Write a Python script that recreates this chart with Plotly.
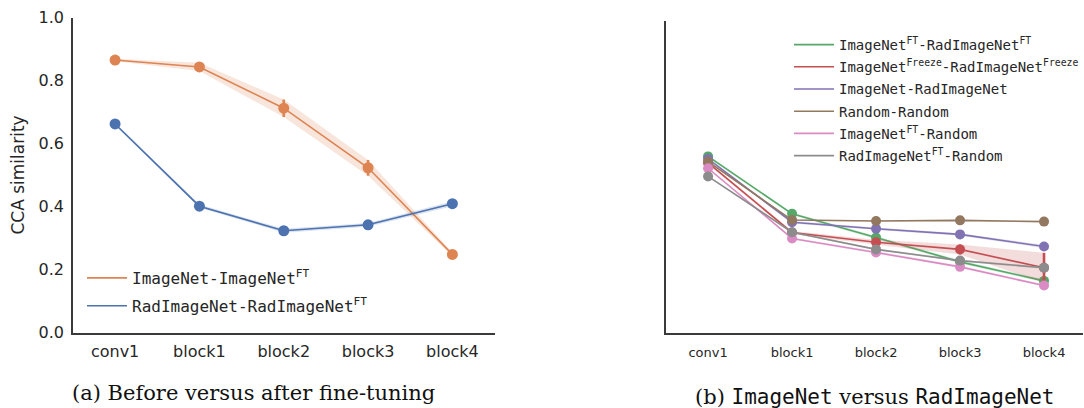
import plotly.graph_objects as go

# ---------------- data ----------------
layers = ["conv1", "block1", "block2", "block3", "block4"]

# (a) before vs after fine-tuning
in_in = [0.865, 0.843, 0.712, 0.523, 0.248]
in_in_err = [0.004, 0.013, 0.028, 0.025, 0.006]
rad_rad = [0.662, 0.401, 0.323, 0.342, 0.409]
rad_rad_err = [0.004, 0.005, 0.006, 0.006, 0.008]

# (b) ImageNet versus RadImageNet
ft_ft = [0.566, 0.382, 0.306, 0.228, 0.167]
ft_ft_err = [0.004, 0.004, 0.005, 0.005, 0.005]
frz_frz = [0.545, 0.322, 0.291, 0.268, 0.209]
frz_frz_err = [0.005, 0.005, 0.008, 0.016, 0.048]
in_rad = [0.558, 0.355, 0.334, 0.316, 0.277]
in_rad_err = [0.003, 0.004, 0.004, 0.004, 0.005]
rnd_rnd = [0.549, 0.362, 0.359, 0.361, 0.357]
rnd_rnd_err = [0.002, 0.002, 0.002, 0.002, 0.002]
inft_rnd = [0.528, 0.303, 0.258, 0.212, 0.152]
inft_rnd_err = [0.003, 0.003, 0.004, 0.004, 0.004]
radft_rnd = [0.502, 0.323, 0.268, 0.232, 0.209]
radft_rnd_err = [0.002, 0.003, 0.003, 0.003, 0.004]

names_a = ["ImageNet-ImageNet<sup>FT</sup>", "RadImageNet-RadImageNet<sup>FT</sup>"]
names_b = [
    "ImageNet<sup>FT</sup>-RadImageNet<sup>FT</sup>",
    "ImageNet<sup>Freeze</sup>-RadImageNet<sup>Freeze</sup>",
    "ImageNet-RadImageNet",
    "Random-Random",
    "ImageNet<sup>FT</sup>-Random",
    "RadImageNet<sup>FT</sup>-Random",
]

# seaborn "deep" palette
C_BLUE, C_ORANGE, C_GREEN, C_RED = "#4C72B0", "#DD8452", "#55A868", "#C44E52"
C_PURPLE, C_BROWN, C_PINK, C_GRAY = "#8172B3", "#937860", "#DA8BC3", "#8C8C8C"

TXT = "#262626"
MONO = "DejaVu Sans Mono"
SANS = "DejaVu Sans"
SERIF = "DejaVu Serif"


def rgba(hexc, a):
    h = hexc.lstrip("#")
    return "rgba(%d,%d,%d,%s)" % (int(h[0:2], 16), int(h[2:4], 16), int(h[4:6], 16), a)


fig = go.Figure()


def add_series(name, vals, errs, color, xa, ya, legend, msize, group):
    lo = [v - e for v, e in zip(vals, errs)]
    hi = [v + e for v, e in zip(vals, errs)]
    fig.add_trace(go.Scatter(
        x=layers + layers[::-1], y=hi + lo[::-1], fill="toself",
        fillcolor=rgba(color, 0.2), line=dict(width=0), mode="lines",
        hoverinfo="skip", showlegend=False, xaxis=xa, yaxis=ya))
    fig.add_trace(go.Scatter(
        x=layers, y=vals, mode="lines", name=name,
        line=dict(color=color, width=1.6), legend=legend, legendgroup=group,
        xaxis=xa, yaxis=ya))
    fig.add_trace(go.Scatter(
        x=layers, y=vals, mode="markers", showlegend=False,
        marker=dict(color=color, size=msize),
        error_y=dict(type="data", array=errs, color=color, thickness=2.6, width=0),
        xaxis=xa, yaxis=ya))


add_series(names_a[0], in_in, in_in_err, C_ORANGE, "x", "y", "legend", 11, "a0")
add_series(names_a[1], rad_rad, rad_rad_err, C_BLUE, "x", "y", "legend", 11, "a1")

series_b = [
    (ft_ft, ft_ft_err, C_GREEN),
    (frz_frz, frz_frz_err, C_RED),
    (in_rad, in_rad_err, C_PURPLE),
    (rnd_rnd, rnd_rnd_err, C_BROWN),
    (inft_rnd, inft_rnd_err, C_PINK),
    (radft_rnd, radft_rnd_err, C_GRAY),
]
for i, (vals, errs, col) in enumerate(series_b):
    add_series(names_b[i], vals, errs, col, "x2", "y2", "legend2", 10, "b%d" % i)

W, H = 1084, 408


def px(x):
    return x / W


def py(y):
    return 1 - y / H


axis_common = dict(showline=True, linecolor="#3a3a3a", linewidth=1.6, ticks="",
                   showgrid=False, zeroline=False, mirror=False, automargin=False)

fig.update_layout(
    width=W, height=H, autosize=False,
    margin=dict(l=0, r=0, t=0, b=0),
    paper_bgcolor="white", plot_bgcolor="white",
    showlegend=True,
    xaxis=dict(domain=[px(73), px(495)], range=[-0.5, 4.5], type="category",
               categoryorder="array", categoryarray=layers, ticklabelstandoff=3,
               tickfont=dict(family=SANS, size=16, color=TXT), anchor="y",
               **axis_common),
    yaxis=dict(domain=[py(332.5), py(17.5)], range=[0, 1],
               tickvals=[0, 0.2, 0.4, 0.6, 0.8, 1.0], ticktext=["0.0", "0.2", "0.4", "0.6", "0.8", "1.0"],
               tickfont=dict(family=SANS, size=16, color=TXT), anchor="x", ticklabelstandoff=4,
               title=dict(text="CCA similarity", font=dict(family=SANS, size=17, color=TXT), standoff=10),
               **axis_common),
    xaxis2=dict(domain=[px(666.7), 1.0], range=[-0.5, 4.464], type="category",
                categoryorder="array", categoryarray=layers, ticklabelstandoff=7,
                tickfont=dict(family=SANS, size=13, color=TXT), anchor="y2",
                **axis_common),
    yaxis2=dict(domain=[py(333), py(21)], range=[0, 1], showticklabels=False,
                anchor="x2", **axis_common),
    legend=dict(x=px(82), y=py(261), xanchor="left", yanchor="top",
                bgcolor="rgba(0,0,0,0)", font=dict(family=MONO, size=16, color=TXT),
                traceorder="grouped", tracegroupgap=4, itemwidth=40),
    legend2=dict(x=px(790), y=py(29), xanchor="left", yanchor="top",
                 bgcolor="rgba(0,0,0,0)", font=dict(family=MONO, size=14, color=TXT),
                 traceorder="grouped", tracegroupgap=1, itemwidth=40),
    annotations=[
        dict(text="(a) Before versus after fine-tuning", x=px(253.5), y=py(393),
             xref="paper", yref="paper", xanchor="center", yanchor="middle",
             showarrow=False, font=dict(family=SERIF, size=21, color="#111111")),
        dict(text="(b) <span style=\"font-family:'DejaVu Sans Mono'\">ImageNet</span> versus "
                  "<span style=\"font-family:'DejaVu Sans Mono'\">RadImageNet</span>",
             x=px(876), y=py(397), xref="paper", yref="paper", xanchor="center", yanchor="middle",
             showarrow=False, font=dict(family=SERIF, size=21, color="#111111")),
    ],
)

fig.write_html("out.html")
